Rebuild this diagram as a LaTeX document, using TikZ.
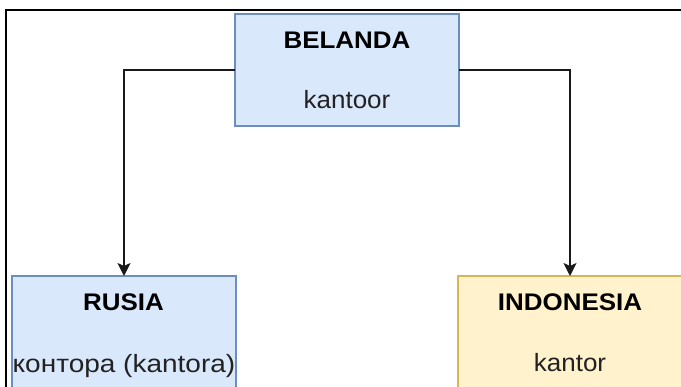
\documentclass[tikz,border=0pt]{standalone}
\usepackage{fontspec}
\setmainfont{Liberation Sans}
\newfontfamily\headfont[FakeStretch=1.08]{Liberation Sans}
\newfontfamily\wordfont[FakeStretch=1.04]{Liberation Sans}
\newfontfamily\widewordfont[FakeStretch=1.12]{Liberation Sans}
\usetikzlibrary{arrows.meta}

\definecolor{blueFill}{HTML}{DAE8FC}
\definecolor{blueLine}{HTML}{6C8EBF}
\definecolor{yellowFill}{HTML}{FFF2CC}
\definecolor{yellowLine}{HTML}{D6B656}
\definecolor{bodyText}{HTML}{222222}

\tikzset{
  langbox/.style={minimum width=224pt, minimum height=112pt, inner sep=0pt,
    outer sep=0pt, anchor=north west, line width=1.3pt},
  bluebox/.style={langbox, draw=blueLine, fill=blueFill},
  yellowbox/.style={langbox, draw=yellowLine, fill=yellowFill},
  title/.style={anchor=base, inner sep=0pt, font=\headfont\fontsize{24}{28}\selectfont\bfseries, text=black},
  word/.style={anchor=base, inner sep=0pt, font=\wordfont\fontsize{25}{30}\selectfont, text=bodyText},
  wideword/.style={word, font=\widewordfont\fontsize{25}{30}\selectfont},
  link/.style={line width=1.4pt, draw=black!90, -{Stealth[length=13pt, width=13pt, inset=3pt]}}
}

\begin{document}
\begin{tikzpicture}[x=1pt, y=-1pt]
\useasboundingbox (0,0) rectangle (681,387);
\begin{scope}
\clip (0,0) rectangle (681,387);

% outer frame (left and top edges)
\draw[line width=2pt, black] (6,400) -- (6,10) -- (700,10);

% language boxes
\node[bluebox] (bel) at (235,14) {};
\node[bluebox] (rus) at (12,276) {};
\node[yellowbox] (ind) at (458,276) {};

% labels
\node[title]    (belT) at (347,48.5) {BELANDA};
\node[word]     (belW) at (347,109) {kantoor};
\node[title]    (rusT) at (123.5,310.5) {RUSIA};
\node[wideword] (rusW) at (124,372.5) {контора (kantora)};
\node[title]    (indT) at (570,310.5) {INDONESIA};
\node[word]     (indW) at (570,371.5) {kantor};

% derivation arrows
\draw[link] (bel.west) -| (rus.north);
\draw[link] (bel.east) -| (ind.north);
\end{scope}
\end{tikzpicture}
\end{document}
